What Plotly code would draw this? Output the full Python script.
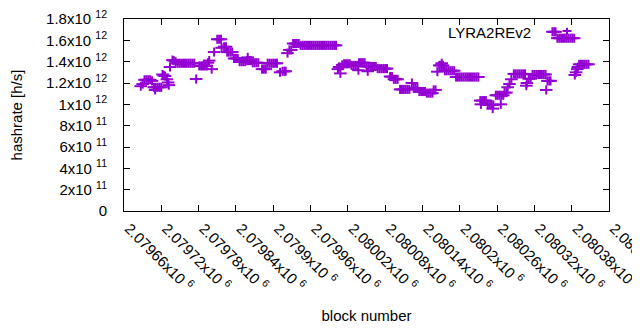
import plotly.graph_objects as go

# ---- data (block number, hashrate in units of 1e12 h/s) ----
blocks = [
    2079687, 2079690, 2079693, 2079696, 2079699, 2079702, 2079705, 2079708, 2079710, 2079711,
    2079714, 2079717, 2079720, 2079722, 2079724, 2079726, 2079729, 2079731, 2079732, 2079734,
    2079738, 2079740, 2079743, 2079746, 2079749, 2079752, 2079755, 2079758, 2079761, 2079764,
    2079767, 2079770, 2079773, 2079776, 2079781, 2079784, 2079787, 2079790, 2079793, 2079795,
    2079797, 2079801, 2079805, 2079810, 2079813, 2079816, 2079817, 2079821, 2079824, 2079826,
    2079828, 2079831, 2079834, 2079837, 2079840, 2079843, 2079846, 2079849, 2079852, 2079855,
    2079858, 2079859, 2079861, 2079864, 2079867, 2079870, 2079873, 2079876, 2079882, 2079885,
    2079888, 2079891, 2079894, 2079897, 2079900, 2079903, 2079906, 2079911, 2079915, 2079918,
    2079920, 2079923, 2079926, 2079929, 2079932, 2079935, 2079938, 2079941, 2079944, 2079947,
    2079950, 2079953, 2079956, 2079959, 2079962, 2079965, 2079968, 2079971, 2079974, 2079977,
    2079980, 2079983, 2079986, 2079989, 2079992, 2079995, 2079998, 2080001, 2080004, 2080006,
    2080008, 2080011, 2080014, 2080017, 2080020, 2080023, 2080026, 2080029, 2080032, 2080035,
    2080037, 2080038, 2080041, 2080044, 2080047, 2080050, 2080052, 2080053, 2080056, 2080059,
    2080062, 2080065, 2080068, 2080071, 2080074, 2080077, 2080080, 2080083, 2080088, 2080091,
    2080094, 2080097, 2080100, 2080104, 2080107, 2080110, 2080113, 2080116, 2080119, 2080123,
    2080126, 2080129, 2080132, 2080135, 2080138, 2080141, 2080144, 2080147, 2080150, 2080153,
    2080156, 2080158, 2080161, 2080164, 2080167, 2080170, 2080171, 2080173, 2080176, 2080179,
    2080182, 2080185, 2080188, 2080191, 2080194, 2080197, 2080200, 2080203, 2080206, 2080209,
    2080212, 2080215, 2080218, 2080221, 2080224, 2080227, 2080230, 2080233, 2080234, 2080236,
    2080239, 2080242, 2080245, 2080248, 2080251, 2080253, 2080254, 2080258, 2080261, 2080264,
    2080266, 2080267, 2080270, 2080272, 2080275, 2080277, 2080280, 2080283, 2080287, 2080290,
    2080293, 2080296, 2080299, 2080302, 2080305, 2080307, 2080308, 2080311, 2080314, 2080317,
    2080320, 2080323, 2080326, 2080329, 2080332, 2080335, 2080338, 2080339, 2080341, 2080344,
    2080346, 2080349, 2080352, 2080354, 2080357, 2080360, 2080363, 2080366, 2080369, 2080372,
    2080375, 2080378, 2080381, 2080384, 2080385, 2080387, 2080389, 2080390, 2080392, 2080395,
    2080398, 2080401, 2080404, 2080407,
]
hashrate_ths = [
    1.17, 1.19, 1.23, 1.23, 1.23, 1.23, 1.22, 1.16, 1.135, 1.16,
    1.16, 1.16, 1.16, 1.28, 1.27, 1.265, 1.235, 1.205, 1.18, 1.35,
    1.415, 1.41, 1.40, 1.385, 1.385, 1.385, 1.385, 1.385, 1.385, 1.385,
    1.385, 1.385, 1.385, 1.237, 1.36, 1.36, 1.36, 1.36, 1.36, 1.39,
    1.41, 1.33, 1.49, 1.61, 1.61, 1.61, 1.53, 1.54, 1.54, 1.49,
    1.49, 1.49, 1.49, 1.43, 1.43, 1.43, 1.40, 1.40, 1.40, 1.40,
    1.41, 1.44, 1.41, 1.41, 1.39, 1.39, 1.39, 1.39, 1.33, 1.33,
    1.33, 1.385, 1.385, 1.385, 1.385, 1.385, 1.385, 1.30, 1.31, 1.31,
    1.31, 1.48, 1.51, 1.51, 1.57, 1.57, 1.57, 1.57, 1.553, 1.553,
    1.553, 1.553, 1.553, 1.553, 1.553, 1.553, 1.553, 1.553, 1.553, 1.553,
    1.553, 1.553, 1.553, 1.553, 1.553, 1.553, 1.553, 1.553, 1.33, 1.35,
    1.29, 1.37, 1.38, 1.38, 1.38, 1.38, 1.365, 1.365, 1.365, 1.365,
    1.32, 1.39, 1.39, 1.39, 1.39, 1.355, 1.31, 1.355, 1.355, 1.355,
    1.355, 1.355, 1.335, 1.335, 1.335, 1.335, 1.335, 1.335, 1.26, 1.26,
    1.235, 1.235, 1.235, 1.14, 1.14, 1.14, 1.14, 1.14, 1.14, 1.20,
    1.15, 1.15, 1.15, 1.12, 1.12, 1.12, 1.12, 1.105, 1.105, 1.105,
    1.105, 1.135, 1.135, 1.306, 1.365, 1.365, 1.385, 1.365, 1.315, 1.315,
    1.315, 1.315, 1.315, 1.315, 1.256, 1.256, 1.256, 1.256, 1.256, 1.256,
    1.256, 1.256, 1.256, 1.256, 1.256, 1.256, 1.256, 1.035, 1.00, 1.035,
    1.035, 1.035, 0.995, 0.995, 0.995, 0.96, 0.995, 1.085, 1.085, 1.085,
    1.00, 1.085, 1.085, 1.11, 1.11, 1.16, 1.19, 1.235, 1.285, 1.285,
    1.285, 1.285, 1.285, 1.285, 1.285, 1.175, 1.20, 1.24, 1.24, 1.28,
    1.28, 1.28, 1.28, 1.28, 1.28, 1.28, 1.28, 1.135, 1.22, 1.22,
    1.22, 1.68, 1.68, 1.68, 1.62, 1.62, 1.62, 1.62, 1.62, 1.62,
    1.62, 1.62, 1.62, 1.62, 1.275, 1.30, 1.33, 1.35, 1.375, 1.375,
    1.375, 1.375, 1.375, 1.375,
]
series_name = "LYRA2REv2"

x_tick_vals = [2079660, 2079720, 2079780, 2079840, 2079900, 2079960, 2080020,
               2080080, 2080140, 2080200, 2080260, 2080320, 2080380, 2080440]
x_tick_text = ["2.07966x10 <sup>6</sup>", "2.07972x10 <sup>6</sup>", "2.07978x10 <sup>6</sup>",
               "2.07984x10 <sup>6</sup>", "2.0799x10 <sup>6</sup>", "2.07996x10 <sup>6</sup>",
               "2.08002x10 <sup>6</sup>", "2.08008x10 <sup>6</sup>", "2.08014x10 <sup>6</sup>",
               "2.0802x10 <sup>6</sup>", "2.08026x10 <sup>6</sup>", "2.08032x10 <sup>6</sup>",
               "2.08038x10 <sup>6</sup>", "2.08044x10 <sup>6</sup>"]
y_tick_vals = [0, 2e11, 4e11, 6e11, 8e11, 1e12, 1.2e12, 1.4e12, 1.6e12, 1.8e12]
y_tick_text = ["0", "2x10 <sup>11</sup>", "4x10 <sup>11</sup>", "6x10 <sup>11</sup>",
               "8x10 <sup>11</sup>", "1x10 <sup>12</sup>", "1.2x10 <sup>12</sup>",
               "1.4x10 <sup>12</sup>", "1.6x10 <sup>12</sup>", "1.8x10 <sup>12</sup>"]

hashrate = [v * 1e12 for v in hashrate_ths]

COLOR = "#9400D3"
FONT = "Liberation Sans, Arial, sans-serif"

fig = go.Figure()
# gnuplot-style "+" marker: wide horizontal stroke + shorter vertical stroke
fig.add_trace(go.Scatter(
    x=blocks, y=hashrate, mode="markers", name=series_name, showlegend=False,
    marker=dict(symbol="line-ew", size=9, line=dict(color=COLOR, width=2)),
))
fig.add_trace(go.Scatter(
    x=blocks, y=hashrate, mode="markers", name=series_name, showlegend=False,
    marker=dict(symbol="line-ns", size=6.5, line=dict(color=COLOR, width=2)),
))

axis_common = dict(
    showline=True, linecolor="black", linewidth=1, mirror="allticks",
    ticks="inside", ticklen=6, tickcolor="black", tickwidth=1,
    showgrid=False, zeroline=False, automargin=False,
    ticklabeloverflow="allow",
    tickfont=dict(family=FONT, size=15, color="black"),
)

# the page body adds an 8px offset, so margins are reduced accordingly
fig.update_layout(
    width=640, height=330, autosize=False,
    margin=dict(l=116, r=39, t=11, b=127),
    paper_bgcolor="white", plot_bgcolor="white",
    font=dict(family=FONT, size=15, color="black"),
    xaxis=dict(
        range=[x_tick_vals[0], x_tick_vals[-1]],
        tickmode="array", tickvals=x_tick_vals, ticktext=x_tick_text,
        tickangle=45, ticklabelshift=5, ticklabelstandoff=2,
        title=dict(text="block number", font=dict(family=FONT, size=15), standoff=16),
        **axis_common,
    ),
    yaxis=dict(
        range=[y_tick_vals[0], y_tick_vals[-1]],
        tickmode="array", tickvals=y_tick_vals, ticktext=y_tick_text,
        ticklabelstandoff=13,
        title=dict(text="hashrate [h/s]", font=dict(family=FONT, size=15), standoff=22),
        **axis_common,
    ),
    showlegend=False,
    annotations=[dict(
        text=series_name, xref="paper", yref="paper", x=0.8433, y=0.932,
        xanchor="right", yanchor="middle", showarrow=False,
        font=dict(family=FONT, size=15, color="black"),
    )],
    shapes=[
        dict(type="line", xref="paper", yref="paper", x0=0.9041, x1=0.9227, y0=0.9375, y1=0.9375,
             line=dict(color=COLOR, width=2)),
        dict(type="line", xref="paper", yref="paper", x0=0.9134, x1=0.9134, y0=0.9208, y1=0.9542,
             line=dict(color=COLOR, width=2)),
    ],
)

fig.write_html("out.html")
